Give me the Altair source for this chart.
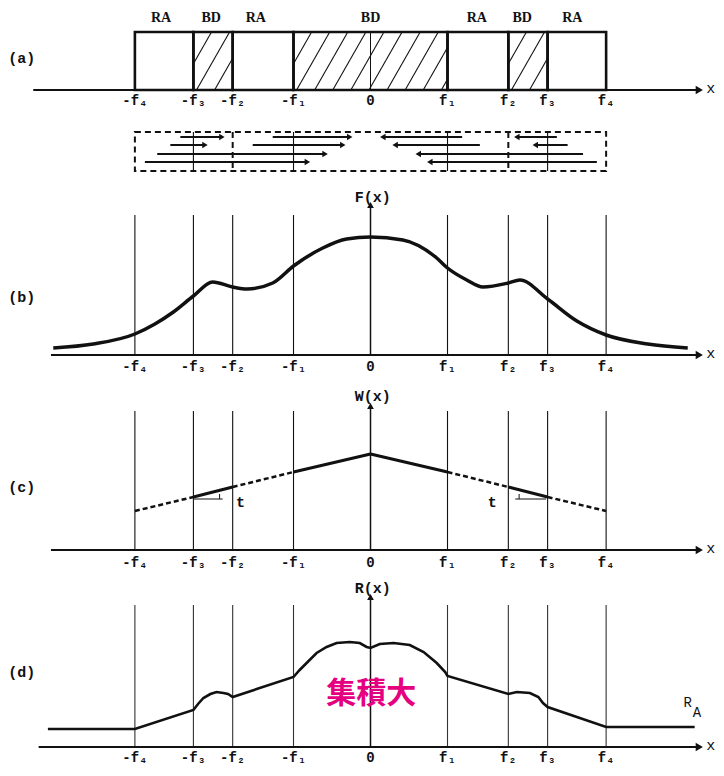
import altair as alt
import pandas as pd

# ---------------- data ----------------
f_labels = ["-f₄", "-f₃", "-f₂", "-f₁", "0", "f₁", "f₂", "f₃", "f₄"]
f_pos = [-3.06, -2.30, -1.79, -1.00, 0.00, 1.00, 1.79, 2.30, 3.06]

# (a) regions
region_start = [-3.06, -2.30, -1.79, -1.00, 1.00, 1.79, 2.30]
region_end = [-2.30, -1.79, -1.00, 1.00, 1.79, 2.30, 3.06]
region_type = ["RA", "BD", "RA", "BD", "RA", "BD", "RA"]
region_label_x = [-2.72, -2.07, -1.49, 0.00, 1.38, 1.97, 2.62]
box_top = 0.58

# (a) arrows inside the dashed box
arrow_row_y = [-0.47, -0.47, -0.47, -0.47, -0.55, -0.55, -0.55, -0.55, -0.64, -0.64, -0.72, -0.72]
arrow_from = [-2.47, -1.27, 1.19, 2.42, -2.60, -1.53, 1.42, 2.56, -2.77, 2.76, -2.93, 2.94]
arrow_to = [-1.93, -0.27, 0.16, 1.90, -2.15, -0.36, 0.32, 2.14, -0.59, 0.62, -0.82, 0.77]
dbox_top, dbox_bottom = -0.42, -0.81

# (b) F(x)
F_x = [-4.12, -3.60, -3.06, -2.80, -2.56, -2.30, -2.05, -1.79, -1.60, -1.27, -1.00, -0.62, -0.31,
       0.00, 0.42, 0.86, 1.00, 1.25, 1.46, 1.79, 1.94, 2.30, 2.68, 3.06, 3.60, 4.12]
F_y = [0.07, 0.11, 0.21, 0.31, 0.43, 0.59, 0.73, 0.68, 0.66, 0.72, 0.89, 1.07, 1.16,
       1.18, 1.15, 0.97, 0.87, 0.75, 0.68, 0.72, 0.75, 0.56, 0.34, 0.20, 0.11, 0.07]

# (c) W(x)
W_y = [0.39, 0.53, 0.63, 0.78, 0.96, 0.78, 0.63, 0.53, 0.39]
W_style = ["dashed", "solid", "dashed", "solid", "solid", "dashed", "solid", "dashed"]

# (d) R(x)
R_x = [-4.19, -3.06, -2.30, -2.24, -2.17, -2.08, -2.00, -1.91, -1.85, -1.79, -1.00, -0.92, -0.83,
       -0.70, -0.57, -0.44, -0.27, -0.14, -0.05, 0.00, 0.12, 0.30, 0.51, 0.69, 0.86, 0.97, 1.00,
       1.79, 1.90, 2.07, 2.18, 2.24, 2.30, 3.06, 4.21]
R_y = [0.18, 0.18, 0.37, 0.43, 0.49, 0.53, 0.55, 0.54, 0.53, 0.50, 0.70, 0.77, 0.84,
       0.94, 1.00, 1.04, 1.05, 1.04, 1.00, 0.99, 1.03, 1.04, 1.02, 0.95, 0.84, 0.75, 0.71,
       0.53, 0.55, 0.54, 0.50, 0.44, 0.40, 0.20, 0.20]

# ---------------- layout / style ----------------
X_DOMAIN = [-4.708, 4.487]
PW = 708
INK = "#111111"
MONO = "Liberation Mono"
PINK = "#E4007F"

def X(f="x"):
    return alt.X(f"{f}:Q", scale=alt.Scale(domain=X_DOMAIN, nice=False, zero=False), axis=None)

def Y(dom, f="y"):
    return alt.Y(f"{f}:Q", scale=alt.Scale(domain=dom, nice=False, zero=False), axis=None)


def axis_layers(dom, x_start, label_y, panel_label, label_pos_y):
    layers = []
    ax = pd.DataFrame({"x": [x_start], "x2": [4.27], "y": [0.0]})
    layers.append(alt.Chart(ax).mark_rule(color=INK, strokeWidth=2).encode(x=X(), x2="x2:Q", y=Y(dom)))
    head = pd.DataFrame({"x": [4.27], "y": [0.0]})
    layers.append(alt.Chart(head).mark_point(shape="triangle-right", filled=True, color=INK, size=70, opacity=1)
                  .encode(x=X(), y=Y(dom)))
    xl = pd.DataFrame({"x": [4.42], "y": [0.02], "t": ["x"]})
    layers.append(alt.Chart(xl).mark_text(font=MONO, fontSize=15, color=INK, align="center", baseline="middle")
                  .encode(x=X(), y=Y(dom), text="t:N"))
    tl = pd.DataFrame({"x": f_pos, "y": [label_y] * len(f_pos), "t": f_labels})
    layers.append(alt.Chart(tl).mark_text(font=MONO, fontSize=14, fontWeight="bold", color=INK,
                                          align="center", baseline="middle")
                  .encode(x=X(), y=Y(dom), text="t:N"))
    pl = pd.DataFrame({"x": [-4.53], "y": [label_pos_y], "t": [panel_label]})
    layers.append(alt.Chart(pl).mark_text(font=MONO, fontSize=15, fontWeight="bold", color=INK,
                                          align="center", baseline="middle")
                  .encode(x=X(), y=Y(dom), text="t:N"))
    return layers


def grid_layers(dom, top, tip, fname, fname_y, vcolor=INK):
    layers = []
    xs = [p for p in f_pos if p != 0]
    vl = pd.DataFrame({"x": xs, "y": [0.0] * len(xs), "y2": [top] * len(xs)})
    layers.append(alt.Chart(vl).mark_rule(color=vcolor, strokeWidth=1.1).encode(x=X(), y=Y(dom), y2="y2:Q"))
    ya = pd.DataFrame({"x": [0.0], "y": [0.0], "y2": [tip]})
    layers.append(alt.Chart(ya).mark_rule(color=INK, strokeWidth=1.5).encode(x=X(), y=Y(dom), y2="y2:Q"))
    yh = pd.DataFrame({"x": [0.0], "y": [tip]})
    layers.append(alt.Chart(yh).mark_point(shape="triangle-up", filled=True, color=INK, size=45, opacity=1)
                  .encode(x=X(), y=Y(dom)))
    fl = pd.DataFrame({"x": [0.03], "y": [fname_y], "t": [fname]})
    layers.append(alt.Chart(fl).mark_text(font=MONO, fontSize=15, fontWeight="bold", color=INK,
                                          align="center", baseline="middle")
                  .encode(x=X(), y=Y(dom), text="t:N"))
    return layers


# ---------------- panel (a) ----------------
DA = [-0.95, 0.82]
la = axis_layers(DA, -4.38, -0.11, "(a)", 0.32)

# hatching of BD regions (style only)
HATCH_STEP, HATCH_RUN = 0.235, 0.43
hatch = []
for xa, xb, t in zip(region_start, region_end, region_type):
    if t != "BD":
        continue
    x0 = xa - HATCH_RUN
    while x0 < xb:
        t0 = max(0.0, (xa - x0) / HATCH_RUN)
        t1 = min(1.0, (xb - x0) / HATCH_RUN)
        if t1 - t0 > 0.02:
            hatch.append({"x": x0 + HATCH_RUN * t0, "y": box_top * t0,
                          "x2": x0 + HATCH_RUN * t1, "y2": box_top * t1})
        x0 += HATCH_STEP
la.append(alt.Chart(pd.DataFrame(hatch)).mark_rule(color=INK, strokeWidth=1.1)
          .encode(x=X(), y=Y(DA), x2="x2:Q", y2="y2:Q"))

reg = pd.DataFrame({"x": region_start, "x2": region_end, "y": [0.0] * 7, "y2": [box_top] * 7,
                    "lx": region_label_x, "ly": [0.72] * 7, "t": region_type})
la.append(alt.Chart(reg).mark_rect(fillOpacity=0, stroke=INK, strokeWidth=2.6)
          .encode(x=X(), x2="x2:Q", y=Y(DA), y2="y2:Q"))
la.append(alt.Chart(reg).mark_text(font="Liberation Serif", fontSize=14, fontWeight="bold", color=INK,
                                   align="center", baseline="middle")
          .encode(x=X("lx"), y=Y(DA, "ly"), text="t:N"))
zl = pd.DataFrame({"x": [0.0], "y": [0.0], "y2": [box_top]})
la.append(alt.Chart(zl).mark_rule(color=INK, strokeWidth=1).encode(x=X(), y=Y(DA), y2="y2:Q"))

# dashed box
dbox = pd.DataFrame({"x": [f_pos[0]], "x2": [f_pos[-1]], "y": [dbox_top], "y2": [dbox_bottom]})
la.append(alt.Chart(dbox).mark_rect(fillOpacity=0, stroke=INK, strokeWidth=2, strokeDash=[6, 4])
          .encode(x=X(), x2="x2:Q", y=Y(DA), y2="y2:Q"))
ddiv = pd.DataFrame({"x": [f_pos[2], f_pos[6]], "y": [dbox_top] * 2, "y2": [dbox_bottom] * 2})
la.append(alt.Chart(ddiv).mark_rule(color=INK, strokeWidth=2, strokeDash=[6, 4])
          .encode(x=X(), y=Y(DA), y2="y2:Q"))
dthin = pd.DataFrame({"x": [f_pos[1], f_pos[3], f_pos[5], f_pos[7]], "y": [dbox_top] * 4,
                      "y2": [dbox_bottom] * 4})
la.append(alt.Chart(dthin).mark_rule(color=INK, strokeWidth=1.1).encode(x=X(), y=Y(DA), y2="y2:Q"))

arr = pd.DataFrame({"x": arrow_from, "x2": arrow_to, "y": arrow_row_y,
                    "d": ["r" if b > a else "l" for a, b in zip(arrow_from, arrow_to)]})
la.append(alt.Chart(arr).mark_rule(color=INK, strokeWidth=2).encode(x=X(), x2="x2:Q", y=Y(DA)))
la.append(alt.Chart(arr).mark_point(filled=True, color=INK, size=40, opacity=1)
          .encode(x=X("x2"), y=Y(DA),
                  shape=alt.Shape("d:N", scale=alt.Scale(domain=["r", "l"],
                                                         range=["triangle-right", "triangle-left"]),
                                  legend=None)))
panel_a = alt.layer(*la).properties(width=PW, height=177)

# ---------------- panel (b) ----------------
DB = [-0.20, 1.70]
lb = grid_layers(DB, 1.40, 1.50, "F(x)", 1.58) + axis_layers(DB, -4.15, -0.12, "(b)", 0.58)
fdf = pd.DataFrame({"x": F_x, "y": F_y})
lb.append(alt.Chart(fdf).mark_line(color=INK, strokeWidth=3.5, interpolate="monotone")
          .encode(x=X(), y=Y(DB)))
panel_b = alt.layer(*lb).properties(width=PW, height=190)

# ---------------- panel (c) ----------------
DC = [-0.15, 1.75]
lc = grid_layers(DC, 1.39, 1.44, "W(x)", 1.54) + axis_layers(DC, -4.15, -0.13, "(c)", 0.63)
rows = []
for i, st in enumerate(W_style):
    rows.append({"x": f_pos[i], "y": W_y[i], "seg": i, "st": st})
    rows.append({"x": f_pos[i + 1], "y": W_y[i + 1], "seg": i, "st": st})
wdf = pd.DataFrame(rows)
lc.append(alt.Chart(wdf).transform_filter(alt.datum.st == "solid")
          .mark_line(color=INK, strokeWidth=3).encode(x=X(), y=Y(DC), detail="seg:N"))
lc.append(alt.Chart(wdf).transform_filter(alt.datum.st == "dashed")
          .mark_line(color=INK, strokeWidth=2.5, strokeDash=[5, 3]).encode(x=X(), y=Y(DC), detail="seg:N"))
tmarks_h = pd.DataFrame({"x": [-2.30, 1.88], "x2": [-1.92, 2.28], "y": [0.51, 0.51]})
lc.append(alt.Chart(tmarks_h).mark_rule(color=INK, strokeWidth=1).encode(x=X(), x2="x2:Q", y=Y(DC)))
tmarks_v = pd.DataFrame({"x": [-1.96, 1.93], "y": [0.51, 0.51], "y2": [0.56, 0.56]})
lc.append(alt.Chart(tmarks_v).mark_rule(color=INK, strokeWidth=1).encode(x=X(), y=Y(DC), y2="y2:Q"))
tt = pd.DataFrame({"x": [-1.69, 1.58], "y": [0.48, 0.48], "t": ["t", "t"]})
lc.append(alt.Chart(tt).mark_text(font=MONO, fontSize=15, fontWeight="bold", color=INK,
                                  align="center", baseline="middle")
          .encode(x=X(), y=Y(DC), text="t:N"))
panel_c = alt.layer(*lc).properties(width=PW, height=190)

# ---------------- panel (d) ----------------
DD = [-0.21, 1.82]
ld = grid_layers(DD, 1.42, 1.50, "R(x)", 1.59, vcolor="#333333") + axis_layers(DD, -4.31, -0.105, "(d)", 0.75)
rdf = pd.DataFrame({"x": R_x, "y": R_y})
ld.append(alt.Chart(rdf).mark_line(color=INK, strokeWidth=2.6).encode(x=X(), y=Y(DD)))
ra = pd.DataFrame({"x": [4.12, 4.24], "y": [0.44, 0.34], "t": ["R", "A"]})
ld.append(alt.Chart(ra).mark_text(font=MONO, fontSize=14, color=INK, align="center", baseline="middle")
          .encode(x=X(), y=Y(DD), text="t:N"))
jp = pd.DataFrame({"x": [0.01], "y": [0.53], "t": ["集積大"]})
ld.append(alt.Chart(jp).mark_text(font="Noto Sans CJK JP", fontSize=30, fontWeight="bold", color=PINK,
                                  align="center", baseline="middle")
          .encode(x=X(), y=Y(DD), text="t:N"))
panel_d = alt.layer(*ld).properties(width=PW, height=203)

chart = alt.vconcat(panel_a, panel_b, panel_c, panel_d, spacing=0, bounds="flush").properties(
    padding=0, background="white"
).configure_view(stroke=None).configure_concat(spacing=0)

chart.save("out.html", embed_options={"renderer": "svg", "actions": False})
